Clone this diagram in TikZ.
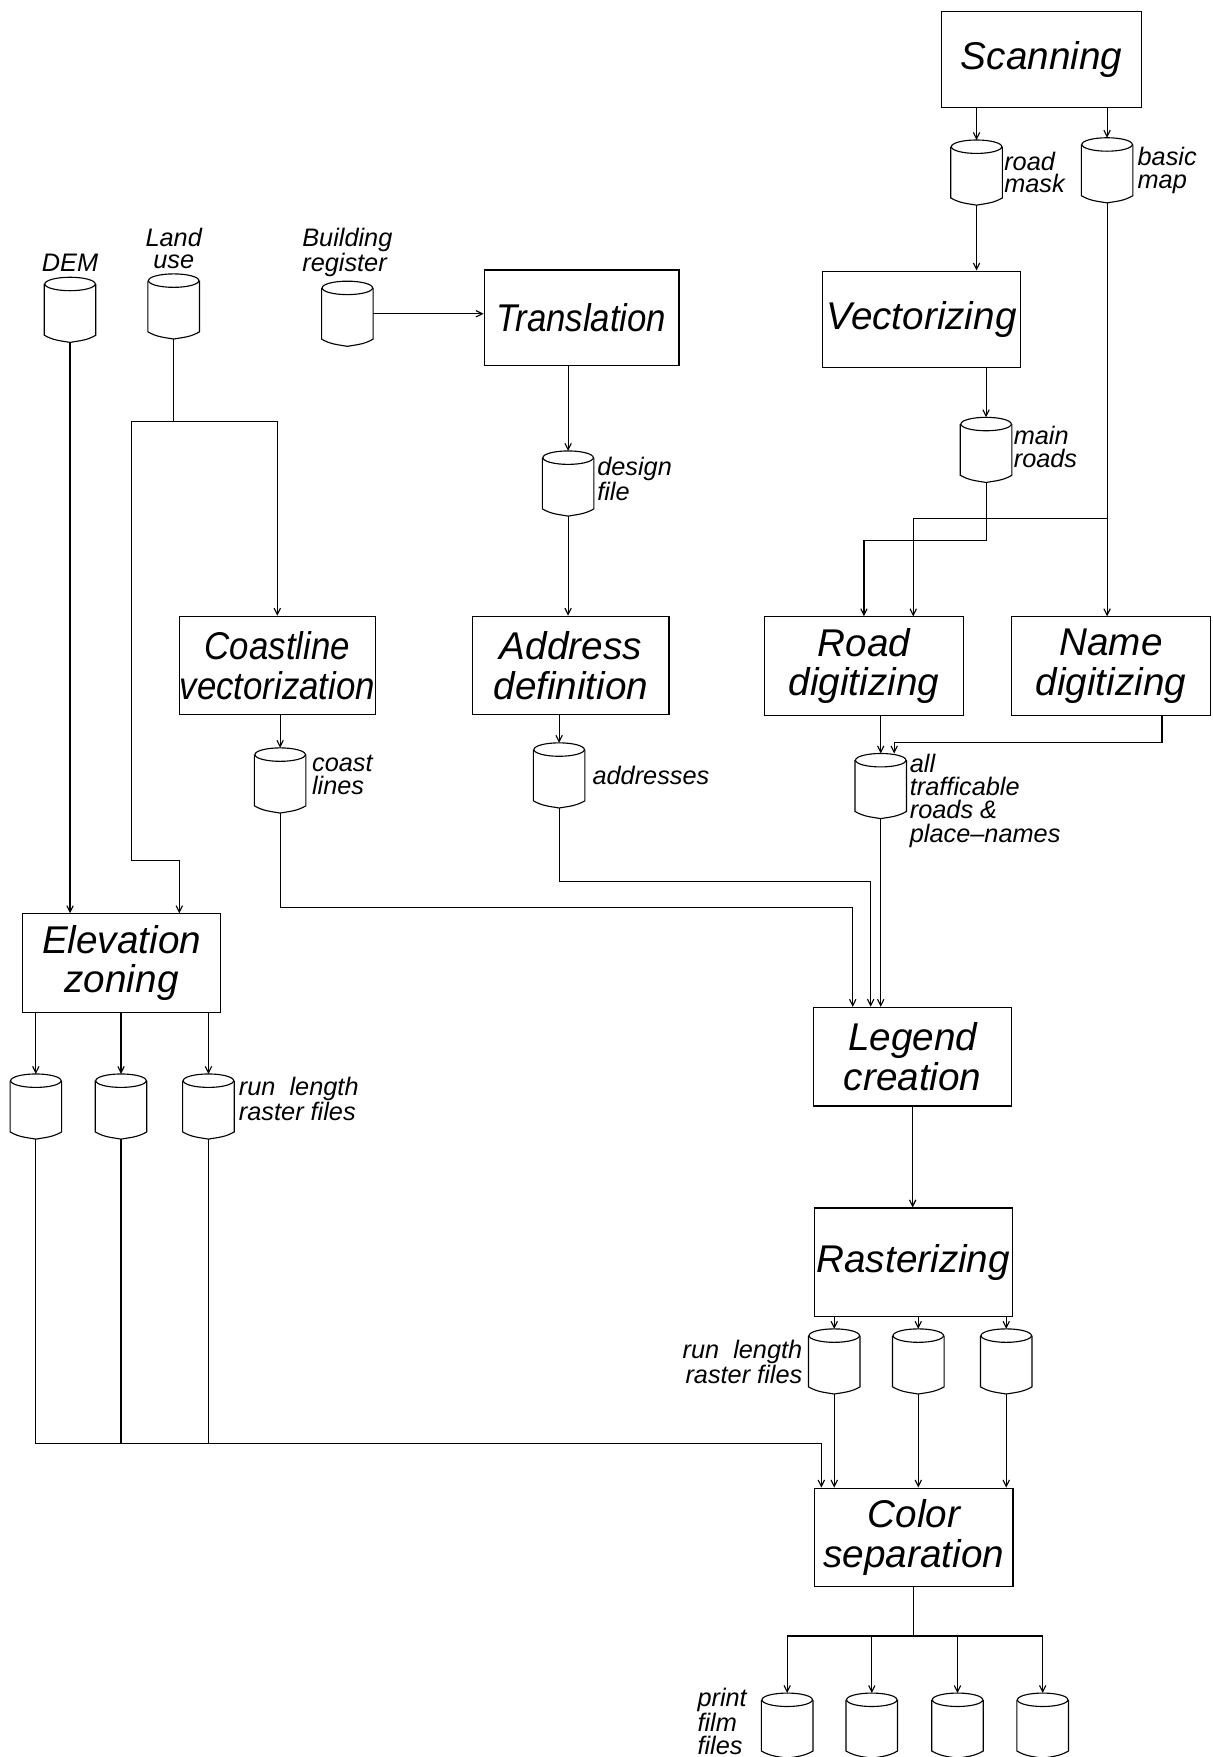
\documentclass[tikz,border=0pt]{standalone}
\usepackage{fontspec}
\setmainfont{Liberation Sans}
\newfontfamily\narrowsans[FakeStretch=0.9]{Liberation Sans}
\usetikzlibrary{arrows.meta}

\begin{document}
\begin{tikzpicture}[x=0.028cm,y=-0.028cm,line width=0.8pt,>={Straight Barb[length=4.5pt,width=4.5pt]},
  proc/.style={draw,rectangle,inner sep=0pt,align=center,minimum width=177*0.028cm,minimum height=88*0.028cm,font=\fontsize{27.5}{28}\selectfont\itshape},
  nproc/.style={proc,font=\narrowsans\fontsize{27.5}{28}\selectfont\itshape},
  data/.style={rectangle,inner sep=0pt,minimum width=1.26cm,minimum height=1.6cm,
    append after command={\pgfextra{
      \draw ([yshift=-0.168cm]\tikzlastnode.north) ellipse [x radius=0.63cm,y radius=0.168cm];
      \draw ([yshift=-0.168cm]\tikzlastnode.north west) -- ([yshift=0.18cm]\tikzlastnode.south west)
        to[out=-30,in=170] (\tikzlastnode.south) to[out=10,in=210] ([yshift=0.18cm]\tikzlastnode.south east)
        -- ([yshift=-0.168cm]\tikzlastnode.north east);}}},
  lbl/.style={inner sep=0pt,align=left,font=\fontsize{18}{16}\selectfont\itshape}]
\useasboundingbox (0,0) rectangle (1082,1568);

\node[proc,minimum width=179*0.028cm,minimum height=86*0.028cm] (scan) at (929.5,53) {Scanning};
\node[nproc,minimum width=174*0.028cm,minimum height=85*0.028cm] (trans) at (519,283.5) {Translation};
\node[proc,minimum height=86*0.028cm] (vect) at (822.5,285) {Vectorizing};
\node[nproc,minimum width=175*0.028cm] (coast) at (247.5,594) {Coastline\\vectorization};
\node[proc,minimum width=175*0.028cm] (addr) at (509.5,594) {Address\\definition};
\node[proc] (road) at (771,594.5) {Road\\digitizing};
\node[proc] (name) at (991.5,594.5) {Name\\digitizing};
\node[proc] (elev) at (108.5,859.5) {Elevation\\zoning};
\node[proc] (legend) at (814.5,943) {Legend\\creation};
\node[proc,minimum height=97*0.028cm] (raster) at (815,1126.5) {Rasterizing};
\node[proc] (colsep) at (815.5,1372) {Color\\separation};

\node[data] (rmask) at (871.5,154) {};
\node[data] (bmap) at (988,152) {};
\node[data] (mroads) at (880,401.5) {};
\node[data] (dem) at (62.5,276.5) {};
\node[data] (luse) at (155,273.5) {};
\node[data] (bldg) at (310,280) {};
\node[data] (design) at (507,431.5) {};
\node[data] (coastc) at (250,696.5) {};
\node[data] (addrs) at (499,692) {};
\node[data] (alltr) at (786,701.5) {};
\node[data] (e1) at (32,987.5) {};
\node[data] (e2) at (108,987.5) {};
\node[data] (e3) at (186,987.5) {};
\node[data] (r1) at (744.5,1215) {};
\node[data] (r2) at (819.5,1215) {};
\node[data] (r3) at (898,1215) {};
\node[data] (p1) at (702.5,1540) {};
\node[data] (p2) at (778,1540) {};
\node[data] (p3) at (854.5,1540) {};
\node[data] (p4) at (930.5,1540) {};

\node[lbl,anchor=west,xshift=1pt] (rmasklbl) at (rmask.east) {road\\mask};
\node[lbl,anchor=west,xshift=3pt] (bmaplbl) at (bmap.east) {basic\\map};
\node[lbl,anchor=west,xshift=1pt,yshift=2pt] (mroadslbl) at (mroads.east) {main\\roads};
\node[lbl,anchor=south,align=center,yshift=4pt] (demlbl) at (dem.north) {DEM};
\node[lbl,anchor=south,align=center,yshift=3pt] (luselbl) at (luse.north) {Land\\use};
\node[lbl,anchor=south,yshift=3pt] (bldglbl) at (bldg.north) {Building\\register};
\node[lbl,anchor=west,xshift=2pt,yshift=3pt] (designlbl) at (design.east) {design\\file};
\node[lbl,anchor=west,xshift=4pt,yshift=4pt] (coastlbl) at (coastc.east) {coast\\lines};
\node[lbl,anchor=west,xshift=5pt] (addrslbl) at (addrs.east) {addresses};
\node[lbl,anchor=north west,xshift=2pt,font=\fontsize{18}{16.5}\selectfont\itshape] (alltrlbl) at (alltr.east |- alltr.north) {all\\trafficable\\roads \&\\place--names};
\node[lbl,anchor=north west,xshift=3pt,yshift=-2pt] (elbl) at (e3.east |- e3.north) {run\ \ length\\raster files};
\node[lbl,anchor=east,align=right,xshift=-4pt] (rlbl) at (r1.west) {run\ \ length\\raster files};
\node[lbl,anchor=east,xshift=-10pt,yshift=3pt] (plbl) at (p1.west) {print\\film\\files};

\draw[->] (rmask.north |- scan.south) -- (rmask.north);
\draw[->] (bmap.north |- scan.south) -- (bmap.north);
\draw[->] (rmask.south) -- (rmask.south |- vect.north);
\draw[->] (mroads.north |- vect.south) -- (mroads.north);
\draw[->] (mroads.south) -- (mroads.south |- 0,482) -| (road.north);
\draw[->] (bmap.south) -- (bmap.south |- name.north);
\draw[->] (bmap.south |- 0,463) -| (815,0 |- road.north);
\draw[->] (alltr.north |- road.south) -- (alltr.north);
\draw[->] (1037,0 |- name.south) |- (798,663) -- (798,0 |- alltr.north);

\draw[->] (bldg.east) -- (bldg.east -| trans.west);
\draw[->] (design.north |- trans.south) -- (design.north);
\draw[->] (design.south) -- (design.south |- addr.north);
\draw[->] (addrs.north |- addr.south) -- (addrs.north);
\draw[->] (coastc.north |- coast.south) -- (coastc.north);

\draw[->] (coastc.south) |- (761,810) -- (761,0 |- legend.north);
\draw[->] (addrs.south) |- (777,787) -- (777,0 |- legend.north);
\draw[->] (alltr.south) -- (alltr.south |- legend.north);

\draw[->] (dem.south) -- (dem.south |- elev.north);
\draw[->] (luse.south) |- (coast.north |- 0,376) -- (coast.north);
\draw[->] (luse.south |- 0,376) -- (117,376) -- (117,768) -| (160,0 |- elev.north);

\draw[->] (e1.north |- elev.south) -- (e1.north);
\draw[->] (e2.north |- elev.south) -- (e2.north);
\draw[->] (e3.north |- elev.south) -- (e3.north);
\draw[->] (e1.south) |- (733,1288) -- (733,0 |- colsep.north);
\draw (e2.south) -- (e2.south |- 0,1288);
\draw (e3.south) -- (e3.south |- 0,1288);

\draw[->] (legend.south) -- (legend.south |- raster.north);
\draw[->] (r1.north |- raster.south) -- (r1.north);
\draw[->] (r2.north |- raster.south) -- (r2.north);
\draw[->] (r3.north |- raster.south) -- (r3.north);
\draw[->] (r1.south) -- (r1.south |- colsep.north);
\draw[->] (r2.south) -- (r2.south |- colsep.north);
\draw[->] (r3.south) -- (r3.south |- colsep.north);

\draw (colsep.south) -- (colsep.south |- 0,1460);
\draw (p1.north |- 0,1460) -- (p4.north |- 0,1460);
\draw[->] (p1.north |- 0,1460) -- (p1.north);
\draw[->] (p2.north |- 0,1460) -- (p2.north);
\draw[->] (p3.north |- 0,1460) -- (p3.north);
\draw[->] (p4.north |- 0,1460) -- (p4.north);

\end{tikzpicture}
\end{document}
